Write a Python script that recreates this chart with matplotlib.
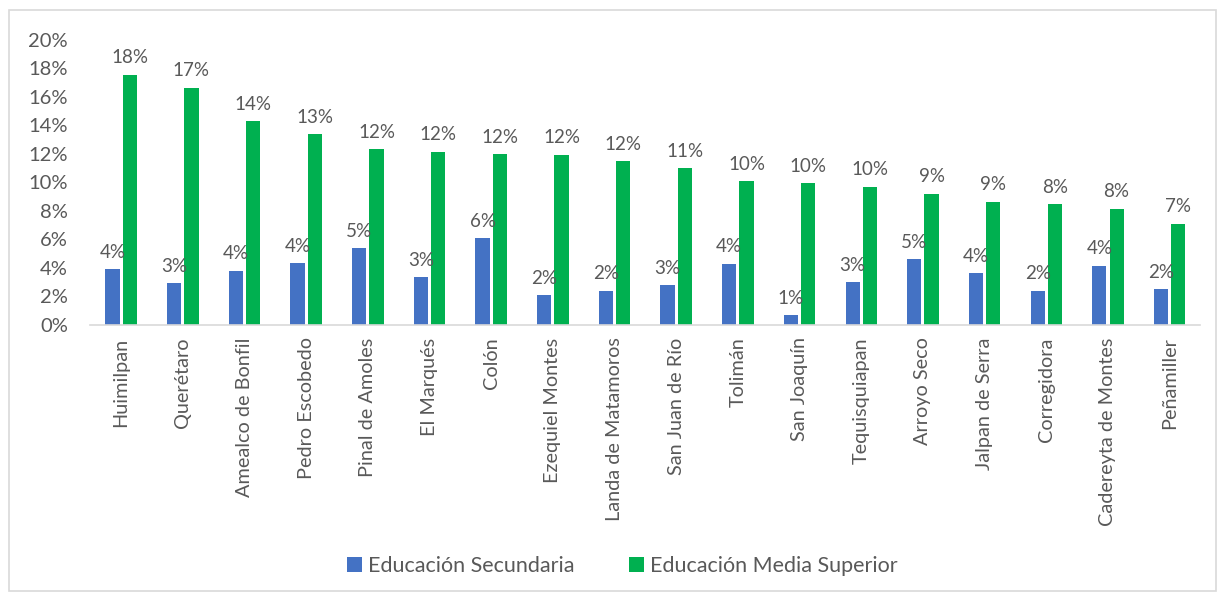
import matplotlib.pyplot as plt
import numpy as np

plt.rcParams['font.family'] = ['Lato', 'DejaVu Sans']

# municipios
municipios = ["Huimilpan", "Querétaro", "Amealco de Bonfil", "Pedro Escobedo",
              "Pinal de Amoles", "El Marqués", "Colón", "Ezequiel Montes",
              "Landa de Matamoros", "San Juan de Río", "Tolimán", "San Joaquín",
              "Tequisquiapan", "Arroyo Seco", "Jalpan de Serra", "Corregidora",
              "Cadereyta de Montes", "Peñamiller"]

# porcentajes
secundaria = [3.9, 2.95, 3.8, 4.35, 5.4, 3.35, 6.1, 2.1, 2.4, 2.8,
              4.3, 0.7, 3.0, 4.6, 3.65, 2.4, 4.15, 2.5]
media_superior = [17.55, 16.65, 14.3, 13.4, 12.35, 12.15, 12.0, 11.95, 11.5, 11.0,
                  10.1, 9.95, 9.7, 9.2, 8.65, 8.45, 8.15, 7.1]

nombres = ["Educación Secundaria", "Educación Media Superior"]
colores = ["#4472C4", "#00B050"]
texto = "#595959"

fig = plt.figure(figsize=(12.2, 5.94), dpi=100)
ax = fig.add_axes([0.074, 0.453, 0.91, 0.48])

x = np.arange(len(municipios))
w = 0.23
gap = 0.025
b1 = ax.bar(x - w / 2 - gap, secundaria, w, color=colores[0], label=nombres[0])
b2 = ax.bar(x + w / 2 + gap, media_superior, w, color=colores[1], label=nombres[1])

for bars, vals in ((b1, secundaria), (b2, media_superior)):
    for b, v in zip(bars, vals):
        ax.annotate(f"{round(v):.0f}%", (b.get_x() + b.get_width() / 2, v),
                    xytext=(0, 6), textcoords="offset points",
                    ha="center", va="bottom", fontsize=13.5, color=texto)

ax.set_ylim(0, 20)
ax.set_xlim(-0.5, len(municipios) - 0.5)
ax.set_yticks(np.arange(0, 21, 2))
ax.set_yticklabels([f"{t}%" for t in range(0, 21, 2)])
ax.set_xticks(x)
ax.set_xticklabels(municipios, rotation=90)
ax.tick_params(axis="y", length=0, labelsize=14.5, colors=texto, pad=16)
ax.tick_params(axis="x", length=0, labelsize=14.3, colors=texto, pad=9)
for s in ["top", "right", "left"]:
    ax.spines[s].set_visible(False)
ax.spines["bottom"].set_color("#D9D9D9")
ax.spines["bottom"].set_linewidth(1.2)

fig.legend(handles=[b1, b2], loc="center", bbox_to_anchor=(0.51, 0.047), ncol=2,
           frameon=False, fontsize=15.5, labelcolor=texto, handlelength=0.7,
           handleheight=0.7, handletextpad=0.3, columnspacing=2.5)

# marco del grafico
fig.patches.append(plt.Rectangle((0.007, 0.005), 0.99, 0.978, transform=fig.transFigure,
                                 fill=False, edgecolor="#D9D9D9", linewidth=1.2))

fig.savefig("out.png", dpi=100)
